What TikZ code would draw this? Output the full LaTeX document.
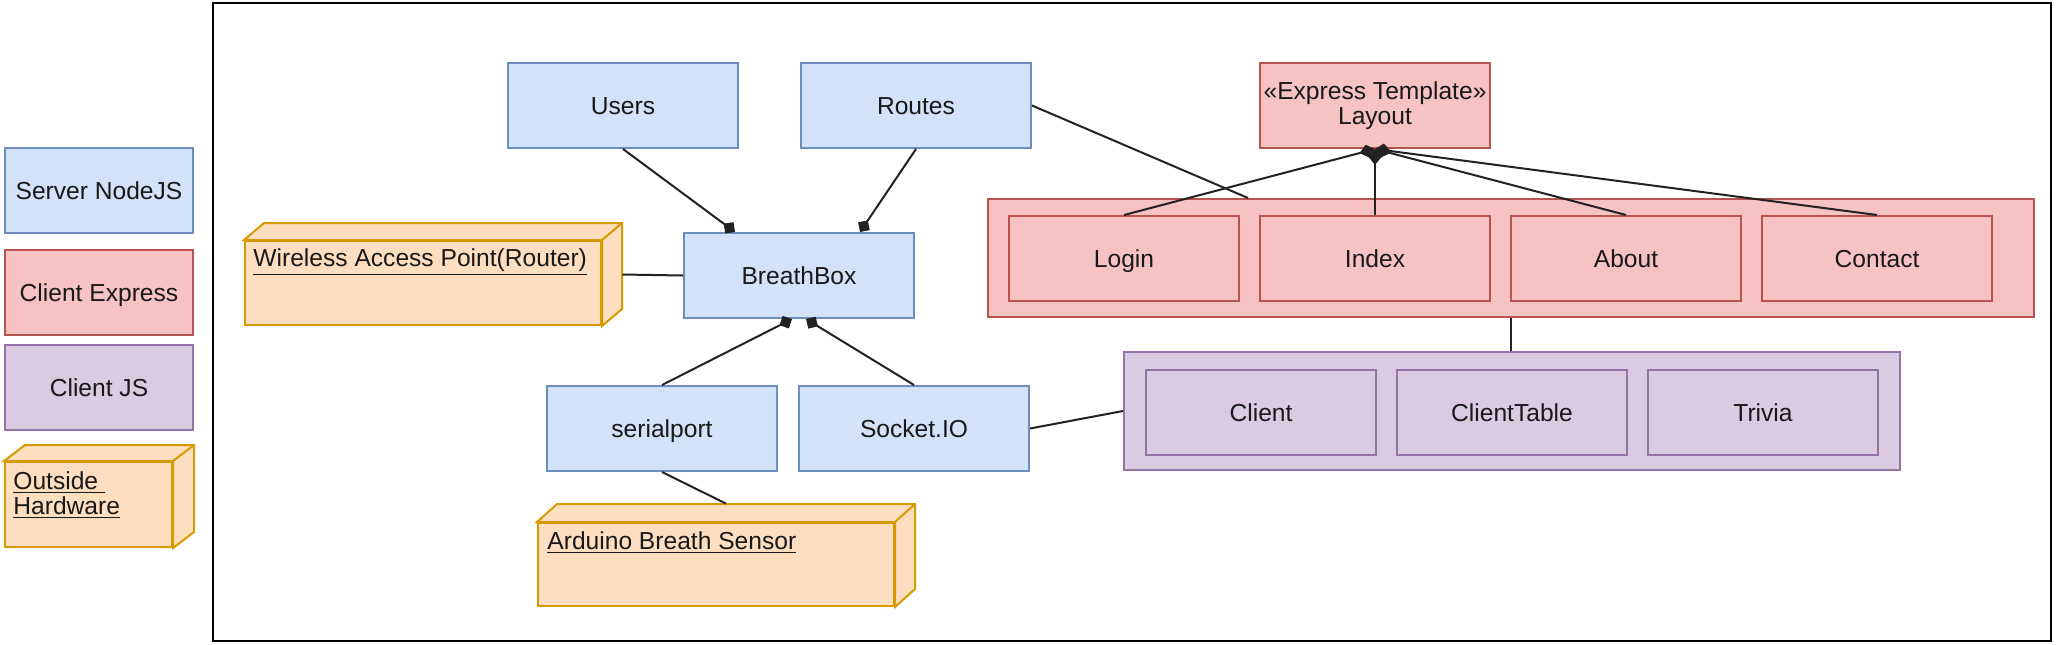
\documentclass[tikz,border=0pt]{standalone}
\usepackage{fontspec}
\setmainfont{Liberation Sans}
\usetikzlibrary{arrows.meta,fit,calc}
\definecolor{bfill}{HTML}{D2E2F9}
\definecolor{bdraw}{HTML}{6C8EBF}
\definecolor{rfill}{HTML}{F6C2C2}
\definecolor{rdraw}{HTML}{B85450}
\definecolor{pfill}{HTML}{DACAE2}
\definecolor{pdraw}{HTML}{9673A6}
\definecolor{ofill}{HTML}{FEDEC0}
\definecolor{odraw}{HTML}{D79B00}
\definecolor{lncol}{HTML}{222222}
\tikzset{
  basebox/.style={draw, line width=1pt, minimum width=115pt, minimum height=42.5pt, inner sep=0pt, anchor=north west, text=black!90},
  box/.style={basebox, text height=8.8pt, text depth=0pt},
  bbox/.style={box, fill=bfill, draw=bdraw},
  rbox/.style={box, fill=rfill, draw=rdraw},
  pbox/.style={box, fill=pfill, draw=pdraw},
  legbox/.style={box, minimum width=94pt},
  hwface/.style={draw=odraw, fill=ofill, line width=1pt, line join=miter},
  hwfront/.style={hwface, inner sep=0pt, anchor=north west},
  hwtext/.style={inner sep=0pt, anchor=west, align=left, text=black!90},
  conn/.style={draw=lncol, line width=1pt},
  bdia/.style={-{Diamond[length=7pt,width=7pt]}},
  ldia/.style={{Diamond[length=8pt,width=6.5pt]}-},
}
\newcommand\hwcube[6]{% name, x, y (front top-left), width, height, depth {dx,dy}
  \node[hwfront, minimum width=#4, minimum height=#5] (#1f) at (#2,#3) {};
  \coordinate (#1b) at ($(#1f.north east)+(#6)$);
  \filldraw[hwface] (#1f.north west) -- ($(#1f.north west)+(#6)$) -- (#1b) -- ($(#1f.south east)+(#6)$) -- (#1f.south east) -- (#1f.north east) -- cycle;
  \draw[hwface] (#1f.north east) -- (#1b);
  \node[hwfront, minimum width=#4, minimum height=#5] at (#2,#3) {};
  \node[fit=(#1f) (#1b), inner sep=0pt] (#1) {};
}
\begin{document}
\begin{tikzpicture}[x=0.5pt,y=-0.5pt,font=\fontsize{12.3}{12.5}\selectfont]
\useasboundingbox (0,0) rectangle (2059,644);
% outer frame
\draw[line width=1pt, black] (213,3) rectangle (2051,641);

% legend
\node[legbox, fill=bfill, draw=bdraw] (leg1) at (4,147) {Server NodeJS};
\node[legbox, fill=rfill, draw=rdraw] (leg2) at (4,249) {Client Express};
\node[legbox, fill=pfill, draw=pdraw] (leg3) at (4,344) {Client JS};
\hwcube{leg4}{4}{461}{83.5pt}{42.5pt}{21,-16}
\node[hwtext] (leg4t) at (13,495) {\underline{Outside\ }\\\underline{Hardware}};

% server nodes
\node[bbox] (users) at (507,62) {Users};
\node[bbox] (routes) at (800,62) {Routes};
\node[bbox] (bb) at (683,232) {BreathBox};
\node[bbox] (sp) at (546,385) {serialport};
\node[bbox] (sock) at (798,385) {Socket.IO};

% hardware
\hwcube{wap}{244}{240}{178pt}{42pt}{20,-17}
\node[hwtext] (wapt) at ($(wapf.north west)+(9,22)$) {\underline{Wireless Access Point(Router)}};
\hwcube{ard}{537}{522}{178pt}{41.5pt}{20,-18}
\node[hwtext] (ardt) at ($(ardf.north west)+(10,21)$) {\underline{Arduino Breath Sensor}};

% client express
\node[basebox, fill=rfill, draw=rdraw, align=center] (layout) at (1259,62) {«Express Template»\\Layout};
\node[rbox, minimum width=523pt, minimum height=59pt] (redc) at (987,198) {};
\node[rbox] (login) at (1008,215) {Login};
\node[rbox] (index) at (1259,215) {Index};
\node[rbox] (about) at (1510,215) {About};
\node[rbox] (contact) at (1761,215) {Contact};

% client js
\node[pbox, minimum width=388pt, minimum height=59pt] (purc) at (1123,351) {};
\node[pbox] (client) at (1145,369) {Client};
\node[pbox] (ctable) at (1396,369) {ClientTable};
\node[pbox] (trivia) at (1647,369) {Trivia};

% connectors
\draw[conn, bdia] (users.south) -- ($(bb.north west)+(52,0)$);
\draw[conn, bdia] (routes.south) -- ($(bb.north west)+(177,0)$);
\draw[conn, bdia] (sp.north) -- ($(bb.south west)+(109,0)$);
\draw[conn, bdia] (sock.north) -- ($(bb.south west)+(123,0)$);
\draw[conn] (wap.east) -- (bb.west);
\draw[conn] (sp.south) -- (ard.north);
\draw[conn] (routes.east) -- ($(redc.north west)+(261,0)$);
\draw[conn, ldia] (layout.south) -- (login.north);
\draw[conn, ldia] (layout.south) -- (index.north);
\draw[conn, ldia] (layout.south) -- (about.north);
\draw[conn, ldia] (layout.south) -- (contact.north);
\draw[conn] (redc.south) -- (redc.south |- purc.north);
\draw[conn] (sock.east) -- (purc.west);
\end{tikzpicture}
\end{document}
